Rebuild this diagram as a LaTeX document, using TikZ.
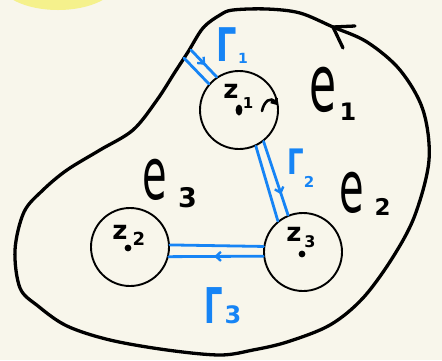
\documentclass[tikz,border=0pt]{standalone}
\usepackage{fontspec}
\setmainfont{DejaVu Sans}
\usepackage{graphicx}
\usetikzlibrary{arrows.meta,decorations.markings}
\definecolor{bg}{RGB}{248,246,235}
\definecolor{sun}{RGB}{245,241,140}
\definecolor{cut}{RGB}{22,132,245}
\newcommand{\fsz}[1]{\fontsize{#1}{#1}\selectfont}
\begin{document}
\begin{tikzpicture}[x=1pt,y=-1pt,
  outer/.style={draw=black,line width=3.3pt,line cap=round,line join=round},
  zc/.style={circle,draw=black,line width=1.9pt,minimum size=78pt,inner sep=0pt},
  cutline/.style={draw=cut,line width=2.8pt,line cap=round},
  midarrow/.style={postaction={decorate},decoration={markings,
     mark=at position #1 with {\arrow[cut,line width=2.4pt]{Straight Barb[length=5pt,width=9pt]}}}},
  lbl/.style={inner sep=0pt,text=black},
  blbl/.style={inner sep=0pt,text=cut},
  dotc/.style={fill=black}]
\useasboundingbox (0,0) rectangle (442,360);
\fill[bg] (0,0) rectangle (442,360);
\begin{scope}
\clip (0,0) rectangle (442,360);
\fill[sun] (58,-20) ellipse [x radius=60, y radius=30];
\end{scope}

% outer contour
\coordinate (tip) at (333,27);
\draw[outer] plot[smooth cycle, tension=0.55] coordinates {(233,10) (267,9) (300,13) (333,27) (367,42) (400,70) (423,110) (429,160) (415,215) (393,257) (363,298) (330,325) (287,342) (253,350) (220,355) (167,350) (110,340) (67,326) (38,306) (20,288) (15,250) (24,212) (43,190) (67,170) (100,150) (133,130) (157,100) (175,72) (188,52) (203,28) (220,15)};
\draw[outer] (355,26) -- (tip) -- (343,48);

% circles
\node[zc] (c1) at (239,110) {};
\node[zc] (c2) at (130,247) {};
\node[zc] (c3) at (303,252) {};

% cut Gamma 1
\coordinate (g1a) at (184,58);
\coordinate (g1b) at (191,50);
\draw[cutline] (g1a) -- (c1.139);
\draw[cutline,midarrow=0.55] (g1b) -- (c1.124);
% cut Gamma 2
\draw[cutline] (c1.-65) -- (c3.129);
\draw[cutline,midarrow=0.72] (c1.-52) -- (c3.112);
% cut Gamma 3
\draw[cutline] (c2.3) -- (c3.172);
\draw[cutline,midarrow=0.52] (c3.186) -- (c2.-14);

% dots
\fill[dotc] (239,110) ellipse [x radius=3.4, y radius=5.5];
\fill[dotc] (128,248) circle [radius=3.4];
\fill[dotc] (302,254) circle [radius=3.4];

% small direction arrow in z1
\draw[line width=2.6pt,line cap=round,-{Straight Barb[length=4pt,width=7pt]}] (262,111) .. controls (264,101) and (271,96) .. (277,105);

% z labels
\node[lbl,font=\bfseries\fsz{26}] (z1) at (231,91) {z};
\node[lbl,font=\bfseries\fsz{15}] (z1s) at (248,103) {1};
\node[lbl,font=\bfseries\fsz{26}] (z2) at (120,232) {z};
\node[lbl,font=\bfseries\fsz{18}] (z2s) at (139,239) {2};
\node[lbl,font=\bfseries\fsz{26}] (z3) at (294,234) {z};
\node[lbl,font=\bfseries\fsz{16}] (z3s) at (310,242) {3};

% region labels
\node[lbl,font=\fsz{44}] (e1) at (323.5,89.5) {\scalebox{1}[1.8]{e}};
\node[lbl,font=\bfseries\fsz{24}] (e1s) at (348,112) {1};
\node[lbl,font=\fsz{40}] (e2) at (351.5,192.5) {\scalebox{1}[1.8]{e}};
\node[lbl,font=\bfseries\fsz{23}] (e2s) at (382.5,206.5) {2};
\node[lbl,font=\fsz{40}] (e3) at (155,180) {\scalebox{1}[1.8]{e}};
\node[lbl,font=\bfseries\fsz{27}] (e3s) at (187.5,198) {3};

% Gamma labels
\node[blbl,font=\bfseries\fsz{32}] (G1) at (227,45) {\scalebox{1}[1.45]{Γ}};
\node[blbl,font=\bfseries\fsz{14}] (G1s) at (243,58) {1};
\node[blbl,font=\bfseries\fsz{26}] (G2) at (296,161.5) {\scalebox{1}[1.35]{Γ}};
\node[blbl,font=\bfseries\fsz{15}] (G2s) at (309,182) {2};
\node[blbl,font=\bfseries\fsz{29}] (G3) at (213.5,306) {\scalebox{1}[1.7]{Γ}};
\node[blbl,font=\bfseries\fsz{24}] (G3s) at (233,315) {3};
\end{tikzpicture}
\end{document}
